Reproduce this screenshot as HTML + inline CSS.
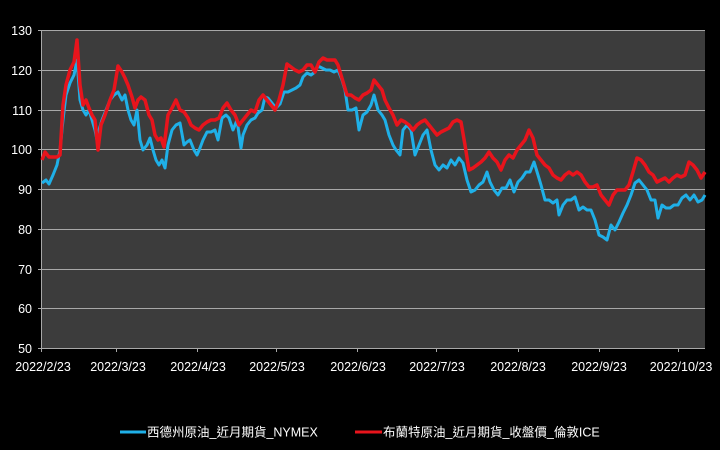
<!DOCTYPE html>
<html><head><meta charset="utf-8"><style>
html,body{margin:0;padding:0;background:#000;}
svg{display:block}
text{font-family:"Liberation Sans","Noto Sans CJK TC",sans-serif;fill:#fff;font-size:12.5px}
</style></head><body>
<svg width="720" height="450" viewBox="0 0 720 450">
<rect width="720" height="450" fill="#000"/>
<rect x="42" y="30" width="663" height="318" fill="#3c3c3c"/>
<g stroke="#a8a8a8" stroke-width="1">
<line x1="42" y1="30.5" x2="705" y2="30.5"/>
<line x1="42" y1="70.5" x2="705" y2="70.5"/>
<line x1="42" y1="110.5" x2="705" y2="110.5"/>
<line x1="42" y1="149.5" x2="705" y2="149.5"/>
<line x1="42" y1="189.5" x2="705" y2="189.5"/>
<line x1="42" y1="229.5" x2="705" y2="229.5"/>
<line x1="42" y1="269.5" x2="705" y2="269.5"/>
<line x1="42" y1="308.5" x2="705" y2="308.5"/>
<line x1="42" y1="348.5" x2="705" y2="348.5"/>
<line x1="41.5" y1="30" x2="41.5" y2="352"/>
<line x1="116.5" y1="348" x2="116.5" y2="352"/><line x1="197.5" y1="348" x2="197.5" y2="352"/>
<line x1="276.5" y1="348" x2="276.5" y2="352"/><line x1="357.5" y1="348" x2="357.5" y2="352"/>
<line x1="436.5" y1="348" x2="436.5" y2="352"/><line x1="518.5" y1="348" x2="518.5" y2="352"/>
<line x1="599.5" y1="348" x2="599.5" y2="352"/><line x1="678.5" y1="348" x2="678.5" y2="352"/>
<line x1="38" y1="30.5" x2="42" y2="30.5"/><line x1="38" y1="70.5" x2="42" y2="70.5"/>
<line x1="38" y1="110.5" x2="42" y2="110.5"/><line x1="38" y1="149.5" x2="42" y2="149.5"/>
<line x1="38" y1="189.5" x2="42" y2="189.5"/><line x1="38" y1="229.5" x2="42" y2="229.5"/>
<line x1="38" y1="269.5" x2="42" y2="269.5"/><line x1="38" y1="308.5" x2="42" y2="308.5"/>
<line x1="38" y1="348.5" x2="42" y2="348.5"/>
</g>
<g text-anchor="end">
<text x="32" y="35">130</text><text x="32" y="75">120</text><text x="32" y="115">110</text>
<text x="32" y="154">100</text><text x="32" y="194">90</text><text x="32" y="234">80</text>
<text x="32" y="274">70</text><text x="32" y="313">60</text><text x="32" y="353">50</text>
</g>
<g text-anchor="middle">
<text x="43" y="371">2022/2/23</text><text x="118" y="371">2022/3/23</text><text x="198" y="371">2022/4/23</text>
<text x="277" y="371">2022/5/23</text><text x="358" y="371">2022/6/23</text><text x="437" y="371">2022/7/23</text>
<text x="518" y="371">2022/8/23</text><text x="599" y="371">2022/9/23</text><text x="681" y="371">2022/10/23</text>
</g>
<polyline fill="none" stroke="#1fb0e8" stroke-width="3" stroke-linejoin="round" points="42,183 46,180 49,184 53,175 57,165 60,150 63,120 66,95 70,83 74,75 77,60 80,100 83,110 86,115 89,110 92,120 95,130 97,140 99,130 102,120 106,110 110,100 114,95 118,92 122,100 125,95 128,110 131,120 134,125 137,110 140,140 143,150 147,145 150,138 153,150 156,160 159,165 162,160 165,168 168,145 172,130 176,125 180,123 184,145 187,142 190,140 194,150 197,155 200,148 203,140 207,132 211,132 215,130 218,140 222,118 226,115 229,118 233,130 237,120 241,148 243,135 247,125 251,120 255,118 258,113 262,110 265,97 268,98 272,103 276,108 280,104 284,92 288,92 292,90 296,88 300,85 303,77 307,73 311,75 315,72 318,66 322,68 326,70 330,70 334,72 338,70 342,80 345,90 348,110 352,110 356,108 359,130 363,115 367,112 371,105 374,95 378,110 382,115 385,120 389,135 393,145 396,150 400,155 403,130 407,125 411,130 415,155 419,145 423,135 427,130 431,150 435,165 439,170 443,165 447,168 451,160 455,165 459,158 463,163 467,180 471,192 475,190 479,185 483,182 487,172 490,182 494,190 498,195 502,188 506,188 510,180 514,192 518,182 522,178 526,172 530,172 534,162 538,175 541,185 545,200 549,200 553,203 557,200 559,215 563,205 567,200 571,200 575,197 579,210 583,207 587,210 591,210 595,220 599,235 603,237 607,240 611,225 615,230 619,222 623,213 627,205 631,195 635,183 639,180 643,185 647,190 651,200 655,200 658,218 662,205 666,208 670,208 674,205 678,205 682,198 686,195 690,200 694,195 698,202 702,200 705,195"/>
<polyline fill="none" stroke="#e8141c" stroke-width="3.5" stroke-linejoin="round" points="42,160 45,152 49,157 53,157 57,157 60,155 63,105 66,85 70,70 74,62 77,40 80,85 83,105 86,100 89,108 92,115 95,120 98,150 101,125 105,115 110,100 114,90 118,66 122,72 125,78 128,85 132,97 135,108 138,100 141,97 145,100 149,115 152,120 155,135 158,140 161,138 164,147 168,115 172,108 176,100 180,110 184,112 188,118 191,125 195,128 199,130 203,125 207,122 211,120 215,120 219,118 223,108 227,103 231,110 235,115 239,125 243,120 247,115 251,110 255,112 259,100 263,95 267,100 271,105 275,110 279,100 283,85 287,64 291,67 295,70 299,72 303,70 307,65 311,65 315,72 319,62 323,58 327,60 331,60 335,60 338,65 341,75 344,85 347,95 351,95 355,98 359,100 363,95 367,93 371,90 374,80 378,85 382,90 385,100 389,108 393,115 397,125 401,120 405,122 409,125 413,130 417,125 421,122 425,120 429,125 433,130 437,135 441,132 445,130 449,128 453,122 457,120 461,122 465,145 469,170 473,168 477,165 481,162 485,158 489,152 493,158 497,162 501,170 505,160 509,155 513,158 517,150 521,145 525,140 529,130 533,138 537,155 541,160 545,165 549,168 553,175 557,178 561,180 565,175 569,172 573,175 577,172 581,175 585,182 589,187 593,187 597,185 601,195 605,200 609,205 613,195 617,190 621,190 625,190 629,185 633,172 637,158 641,160 645,165 649,172 653,175 657,182 661,180 665,178 669,182 673,178 677,175 681,177 685,175 689,162 693,165 697,170 701,178 705,172"/>
<line x1="120" y1="432" x2="146" y2="432" stroke="#1fb0e8" stroke-width="3"/>
<text x="147" y="436.5">西德州原油_近月期貨_NYMEX</text>
<line x1="355" y1="432" x2="382" y2="432" stroke="#e8141c" stroke-width="3"/>
<text x="383" y="436.5">布蘭特原油_近月期貨_收盤價_倫敦ICE</text>
</svg>
</body></html>
